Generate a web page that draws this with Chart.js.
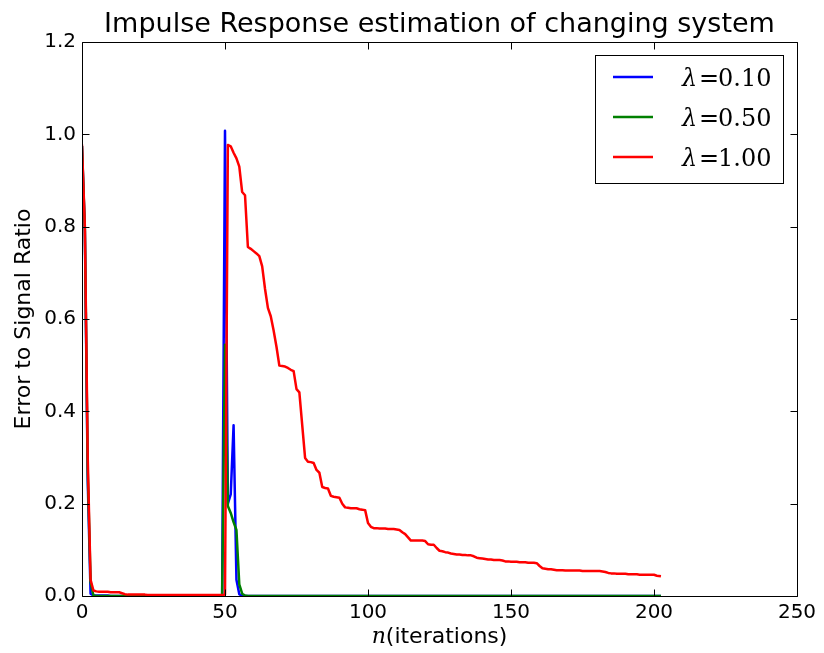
<!DOCTYPE html>
<html><head><meta charset="utf-8">
<script src="https://cdn.jsdelivr.net/npm/chart.js@4.4.0/dist/chart.umd.min.js"></script>
<style>html,body{margin:0;padding:0;background:#fff;}canvas{display:block;}</style>
</head><body>
<canvas id="c" width="824" height="653"></canvas>
<script>
const titleText = 'Impulse Response estimation of changing system';
const xLabelVar = 'n';
const xLabelText = '(iterations)';
const yLabelText = 'Error to Signal Ratio';
const seriesLabels = ['λ=0.10', 'λ=0.50', 'λ=1.00'];
const lambdaValues = ['0.10', '0.50', '1.00'];
const seriesColors = ['#0000ff', '#008000', '#ff0000'];
const xTicks = [0, 50, 100, 150, 200, 250];
const yTicks = [0.0, 0.2, 0.4, 0.6, 0.8, 1.0, 1.2];

const blue = [
  0.972,0.790,0.250,0.005,0.001,0.001,0.001,0.001,0.001,0.001,
  0,0,0,0,0,0,0,0,0,0,
  0,0,0,0,0,0,0,0,0,0,
  0,0,0,0,0,0,0,0,0,0,
  0,0,0,0,0,0,0,0,0,0.002,
  1.008,0.200,0.220,0.370,0.035,0.004,0,0,0,0,
  0,0,0,0,0,0,0,0,0,0,
  0,0,0,0,0,0,0,0,0,0,
  0,0,0,0,0,0,0,0,0,0,
  0,0,0,0,0,0,0,0,0,0,
  0,0,0,0,0,0,0,0,0,0,
  0,0,0,0,0,0,0,0,0,0,
  0,0,0,0,0,0,0,0,0,0,
  0,0,0,0,0,0,0,0,0,0,
  0,0,0,0,0,0,0,0,0,0,
  0,0,0,0,0,0,0,0,0,0,
  0,0,0,0,0,0,0,0,0,0,
  0,0,0,0,0,0,0,0,0,0,
  0,0,0,0,0,0,0,0,0,0,
  0,0,0,0,0,0,0,0,0,0,
  0,0,0
];
const green = [
  0.972,0.795,0.270,0.030,0.001,0,0,0,0,0,
  0,0,0,0,0,0,0,0,0,0,
  0,0,0,0,0,0,0,0,0,0,
  0,0,0,0,0,0,0,0,0,0,
  0,0,0,0,0,0,0,0,0,0.002,
  0.544,0.195,0.180,0.160,0.143,0.025,0.005,0.001,0,0,
  0,0,0,0,0,0,0,0,0,0,
  0,0,0,0,0,0,0,0,0,0,
  0,0,0,0,0,0,0,0,0,0,
  0,0,0,0,0,0,0,0,0,0,
  0,0,0,0,0,0,0,0,0,0,
  0,0,0,0,0,0,0,0,0,0,
  0,0,0,0,0,0,0,0,0,0,
  0,0,0,0,0,0,0,0,0,0,
  0,0,0,0,0,0,0,0,0,0,
  0,0,0,0,0,0,0,0,0,0,
  0,0,0,0,0,0,0,0,0,0,
  0,0,0,0,0,0,0,0,0,0,
  0,0,0,0,0,0,0,0,0,0,
  0,0,0,0,0,0,0,0,0,0,
  0,0,0
];
const red = [
  0.975,0.800,0.300,0.035,0.012,0.010,0.009,0.009,0.009,0.009,
  0.008,0.008,0.008,0.008,0.006,0.004,0.003,0.003,0.003,0.003,
  0.003,0.003,0.003,0.002,0.002,0.002,0.002,0.002,0.002,0.002,
  0.002,0.002,0.002,0.002,0.002,0.002,0.002,0.002,0.002,0.002,
  0.002,0.002,0.002,0.002,0.002,0.002,0.002,0.002,0.002,0.002,
  0.003,0.977,0.974,0.960,0.948,0.930,0.875,0.868,0.756,0.752,
  0.747,0.742,0.736,0.714,0.665,0.624,0.606,0.575,0.540,0.499,
  0.498,0.497,0.494,0.490,0.487,0.448,0.441,0.370,0.299,0.291,
  0.290,0.288,0.273,0.267,0.236,0.234,0.233,0.217,0.215,0.214,
  0.213,0.200,0.192,0.191,0.190,0.190,0.190,0.188,0.187,0.186,
  0.158,0.150,0.147,0.147,0.146,0.146,0.146,0.145,0.145,0.145,
  0.144,0.143,0.138,0.134,0.127,0.120,0.120,0.120,0.120,0.120,
  0.119,0.112,0.111,0.111,0.104,0.098,0.097,0.095,0.094,0.092,
  0.091,0.090,0.090,0.089,0.089,0.088,0.088,0.086,0.083,0.082,
  0.081,0.080,0.079,0.079,0.078,0.078,0.078,0.077,0.075,0.075,
  0.074,0.074,0.074,0.073,0.073,0.073,0.072,0.072,0.072,0.071,
  0.065,0.060,0.059,0.058,0.058,0.057,0.056,0.056,0.056,0.055,
  0.055,0.055,0.055,0.055,0.055,0.054,0.054,0.054,0.054,0.054,
  0.054,0.054,0.053,0.052,0.050,0.049,0.049,0.048,0.048,0.048,
  0.048,0.047,0.047,0.047,0.047,0.046,0.046,0.046,0.046,0.046,
  0.046,0.044,0.043
];
const seriesValues = [blue, green, red];
const iterations = red.map((_, i) => i);

const FONT = '"DejaVu Sans", sans-serif';
const SERIF = '"DejaVu Serif", serif';

const decor = {
  id: 'decor',
  afterDatasetsDraw(chart) {
    const { ctx, chartArea: a, scales: { x, y } } = chart;
    const L = Math.round(a.left) + 0.5, R = Math.round(a.right) + 0.5;
    const T = Math.round(a.top) + 0.5, B = Math.round(a.bottom) + 0.5;
    ctx.save();
    ctx.strokeStyle = '#000';
    ctx.lineWidth = 1;
    ctx.beginPath();
    ctx.moveTo(L, T); ctx.lineTo(R, T); ctx.lineTo(R, B); ctx.lineTo(L, B); ctx.closePath();
    xTicks.forEach(v => {
      const px = Math.round(x.getPixelForValue(v)) + 0.5;
      ctx.moveTo(px, B); ctx.lineTo(px, B - 7);
      ctx.moveTo(px, T); ctx.lineTo(px, T + 7);
    });
    yTicks.forEach(v => {
      const py = Math.round(y.getPixelForValue(v)) + 0.5;
      ctx.moveTo(L, py); ctx.lineTo(L + 7, py);
      ctx.moveTo(R, py); ctx.lineTo(R - 7, py);
    });
    ctx.stroke();

    // legend
    const lx = Math.round(a.right) - 202, ly = Math.round(a.top) + 13, lw = 188, lh = 128;
    ctx.fillStyle = '#fff';
    ctx.fillRect(lx, ly, lw, lh);
    ctx.strokeStyle = '#000';
    ctx.lineWidth = 1;
    ctx.strokeRect(lx + 0.5, ly + 0.5, lw, lh);
    chart.data.datasets.forEach((ds, i) => {
      const yy = ly + 22 + i * 40;
      ctx.strokeStyle = ds.borderColor;
      ctx.lineWidth = 2.5;
      ctx.beginPath();
      ctx.moveTo(lx + 18, yy); ctx.lineTo(lx + 58, yy);
      ctx.stroke();
      ctx.fillStyle = '#000';
      ctx.textBaseline = 'alphabetic';
      ctx.textAlign = 'left';
      ctx.font = 'italic 24px ' + SERIF;
      ctx.fillText('λ', lx + 87, yy + 9);
      ctx.font = '24px ' + SERIF;
      ctx.fillText('=', lx + 104, yy + 9);
      ctx.fillText(lambdaValues[i], lx + 123, yy + 9);
    });
    ctx.restore();
  },
  afterDraw(chart) {
    const { ctx, chartArea: a } = chart;
    ctx.save();
    ctx.fillStyle = '#000';
    const cx = (a.left + a.right) / 2;
    ctx.font = '27px ' + FONT;
    ctx.textAlign = 'center';
    ctx.textBaseline = 'alphabetic';
    ctx.fillText(titleText, cx, 32);

    ctx.font = 'italic 22px ' + SERIF;
    const wn = ctx.measureText(xLabelVar).width;
    ctx.font = '22px ' + FONT;
    const wt = ctx.measureText(xLabelText).width;
    const sx = cx - (wn + wt) / 2;
    ctx.textAlign = 'left';
    ctx.font = 'italic 22px ' + SERIF;
    ctx.fillText(xLabelVar, sx, 643);
    ctx.font = '22px ' + FONT;
    ctx.fillText(xLabelText, sx + wn, 643);

    ctx.translate(30, (a.top + a.bottom) / 2);
    ctx.rotate(-Math.PI / 2);
    ctx.textAlign = 'center';
    ctx.fillText(yLabelText, 0, 0);
    ctx.restore();
  }
};

new Chart(document.getElementById('c'), {
  type: 'line',
  data: {
    labels: iterations,
    datasets: seriesValues.map((vals, i) => ({
      label: seriesLabels[i],
      data: vals.map((v, k) => ({ x: iterations[k], y: v })),
      borderColor: seriesColors[i],
      backgroundColor: seriesColors[i],
      borderWidth: 2.5,
      pointRadius: 0,
      tension: 0,
      fill: false,
      borderJoinStyle: 'round',
      borderCapStyle: 'square',
      order: 2 - i
    }))
  },
  options: {
    responsive: false,
    animation: false,
    devicePixelRatio: 1,
    layout: { padding: { top: 42, right: 27, bottom: 0, left: 0 } },
    plugins: { legend: { display: false }, title: { display: false }, tooltip: { enabled: false } },
    scales: {
      x: {
        type: 'linear', min: 0, max: 250,
        grid: { display: false, drawTicks: false },
        border: { display: false },
        afterBuildTicks: s => { s.ticks = xTicks.map(v => ({ value: v })); },
        afterFit: s => { s.height = 57; },
        ticks: { color: '#000', font: { family: FONT, size: 20 }, padding: 5, maxRotation: 0, callback: v => String(v) }
      },
      y: {
        type: 'linear', min: 0, max: 1.2,
        grid: { display: false, drawTicks: false },
        border: { display: false },
        afterBuildTicks: s => { s.ticks = yTicks.map(v => ({ value: v })); },
        afterFit: s => { s.width = 82; },
        ticks: { color: '#000', font: { family: FONT, size: 20 }, padding: 6, callback: v => Number(v).toFixed(1) }
      }
    }
  },
  plugins: [decor]
});
</script>
</body></html>
